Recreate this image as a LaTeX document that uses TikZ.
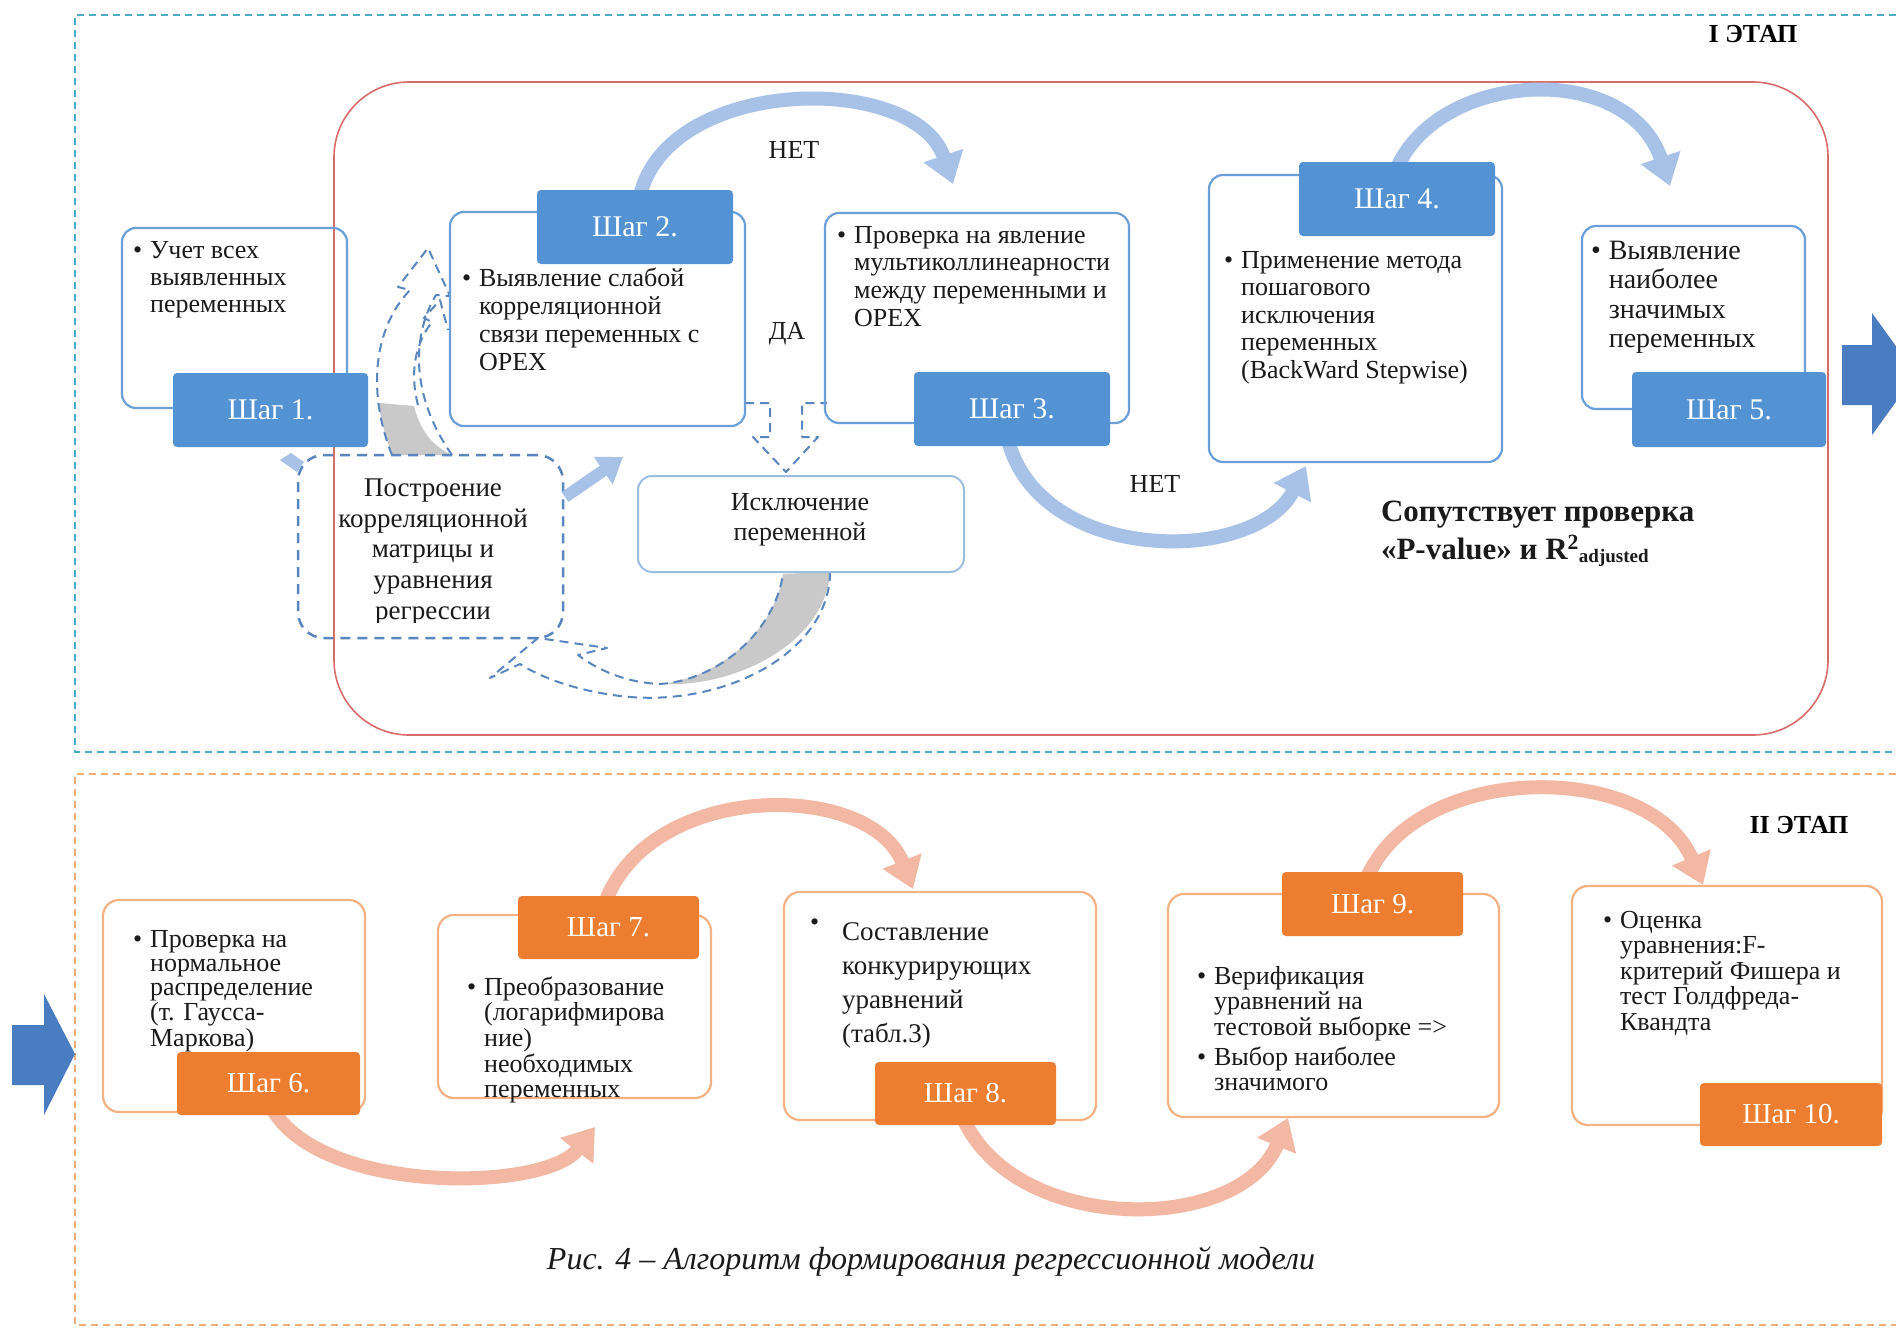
\documentclass[tikz,border=0pt]{standalone}
\usepackage{fontspec}
\setmainfont{Liberation Serif}
\usetikzlibrary{arrows.meta}
\definecolor{blab}{HTML}{5392D3}
\definecolor{bbord}{HTML}{6A9FD8}
\definecolor{barc}{HTML}{A7C2E6}
\definecolor{olab}{HTML}{ED7D31}
\definecolor{obord}{HTML}{F4B183}
\definecolor{oarc}{HTML}{F3B8A4}
\definecolor{redf}{HTML}{D96B6B}
\definecolor{stageone}{HTML}{4BACC6}
\definecolor{stagetwo}{HTML}{F0AC7A}
\definecolor{dblue}{HTML}{5A86C0}
\definecolor{bigblue}{HTML}{4A7CC2}
\definecolor{graywedge}{HTML}{C9C9C9}
\definecolor{exbord}{HTML}{9DBDE3}
\definecolor{tcol}{HTML}{1A1A1A}
\newcommand\bx[7]{\node[#1, anchor=north west, inner sep=0pt, outer sep=0pt,
  minimum width={(#5)-(#3)}, minimum height={(#6)-(#4)}] (#2) at (#3,#4) {#7};}
\begin{document}
\begin{tikzpicture}[x=1pt,y=-1pt,
  bbox/.style={draw=bbord, line width=2.2pt, rounded corners=14pt},
  obox/.style={draw=obord, line width=2.2pt, rounded corners=16pt},
  blabel/.style={fill=blab, rounded corners=4pt, text=white, font=\fontsize{30}{32}\selectfont},
  olabel/.style={fill=olab, rounded corners=4pt, text=white, font=\fontsize{29}{31}\selectfont},
  txt/.style={inner sep=0pt, outer sep=0pt, text=tcol, anchor=base west},
  ctxt/.style={inner sep=0pt, outer sep=0pt, text=tcol, align=center},
  barrow/.style={draw=barc, line width=14pt, -{Triangle[width=40pt,length=30pt]}},
  oarrow/.style={draw=oarc, line width=14pt, -{Triangle[width=40pt,length=30pt]}},
  dasharrow/.style={draw=dblue, line width=2pt, dash pattern=on 9pt off 6pt, line join=round},
  stageline/.style={line width=1.8pt, dash pattern=on 7pt off 5pt}
]
\useasboundingbox (0,0) rectangle (1896,1328);
\fill[white] (0,0) rectangle (1896,1328);

% stage frames
\draw[stageline, draw=stageone] (1896,15) -- (75,15) -- (75,752) -- (1896,752);
\draw[stageline, draw=stagetwo] (1896,774) -- (75,774) -- (75,1325) -- (1896,1325);
\node[inner sep=0pt, font=\bfseries\fontsize{26}{28}\selectfont] (st1) at (1753,34) {I ЭТАП};
\node[inner sep=0pt, font=\bfseries\fontsize{26}{28}\selectfont] (st2) at (1799,825) {II ЭТАП};

% red frame
\bx{draw=redf, line width=1.6pt, rounded corners=75pt}{redframe}{334}{82}{1828}{735}{}

% big block arrows
\fill[bigblue] (1842,345) -- (1872,345) -- (1872,313) -- (1916,374) -- (1872,435) -- (1872,405) -- (1842,405) -- cycle;
\fill[bigblue] (12,1025) -- (44,1025) -- (44,994) -- (75,1054) -- (44,1115) -- (44,1085) -- (12,1085) -- cycle;

% blue arcs
\coordinate (a1s) at (640,196);
\coordinate (a1e) at (953,184);
\draw[barrow] (a1s) .. controls (668,75) and (915,72) .. (a1e);
\coordinate (a2s) at (1397,168);
\coordinate (a2e) at (1670,186);
\draw[barrow] (a2s) .. controls (1440,70) and (1628,60) .. (a2e);
\coordinate (a3s) at (1008,440);
\coordinate (a3e) at (1306,466);
\draw[barrow] (a3s) .. controls (1040,565) and (1255,565) .. (a3e);

% orange arcs
\coordinate (o1s) at (272,1108);
\coordinate (o1e) at (595,1127);
\draw[oarrow] (o1s) .. controls (320,1195) and (545,1192) .. (o1e);
\coordinate (o2s) at (605,903);
\coordinate (o2e) at (913,889);
\draw[oarrow] (o2s) .. controls (650,780) and (870,780) .. (o2e);
\coordinate (o3s) at (963,1118);
\coordinate (o3e) at (1288,1118);
\draw[oarrow] (o3s) .. controls (1015,1235) and (1240,1235) .. (o3e);
\coordinate (o4s) at (1366,880);
\coordinate (o4e) at (1703,885);
\draw[oarrow] (o4s) .. controls (1415,760) and (1650,760) .. (o4e);

% dashed curved arrows (left part of stage I)
\fill[graywedge] (392,455) .. controls (384,432) and (380,418) .. (379,403) -- (414,406) .. controls (420,430) and (432,446) .. (452,455) -- cycle;
\draw[dasharrow] (392,455) .. controls (368,395) and (372,330) .. (410,290) -- (398,287) -- (428,248) -- (450,296) -- (436,295) .. controls (412,335) and (410,395) .. (452,455);
\draw[dasharrow] (418,405) .. controls (410,375) and (414,345) .. (432,322) -- (424,318) -- (440,300) -- (448,330);
\fill[graywedge] (783,574) .. controls (775,630) and (720,678) .. (660,684) .. controls (740,688) and (826,640) .. (830,572) -- cycle;
\draw[dasharrow] (830,572) .. controls (830,650) and (730,705) .. (630,697) .. controls (585,693) and (545,680) .. (520,664) -- (490,678) -- (538,638) -- (607,648) -- (578,655) .. controls (600,672) and (630,683) .. (660,684) .. controls (720,680) and (775,630) .. (783,574);
\draw[dasharrow] (745,403) -- (770,403) -- (770,437) -- (753,437) -- (786,472) -- (818,437) -- (802,437) -- (802,403) -- (827,403);

% stage I boxes
\bx{bbox}{s1}{122}{228}{347}{408}{}
\bx{bbox}{s2}{450}{212}{745}{426}{}
\bx{bbox}{s3}{825}{213}{1129}{423}{}
\bx{bbox}{s4}{1209}{175}{1502}{462}{}
\bx{bbox}{s5}{1582}{226}{1805}{409}{}
\bx{draw=exbord, line width=2pt, rounded corners=14pt}{excl}{638}{476}{964}{572}{}
\bx{draw=dblue, line width=2.5pt, dash pattern=on 10pt off 7pt, rounded corners=26pt}{dbox}{298}{455}{563}{638}{}

% small arrows step1 -> dashed box -> step2
\fill[barc] (280,460) -- (291,453) -- (304,462) -- (297,472) -- cycle;
\coordinate (sa1) at (565,497);
\coordinate (sa2) at (623,457);
\draw[draw=barc, line width=12pt, -{Triangle[width=32pt,length=24pt]}] (sa1) -- (sa2);

\bx{blabel}{l1}{173}{373}{368}{447}{Шаг 1.}
\bx{blabel}{l2}{537}{190}{733}{264}{Шаг 2.}
\bx{blabel}{l3}{914}{372}{1110}{446}{Шаг 3.}
\bx{blabel}{l4}{1299}{162}{1495}{236}{Шаг 4.}
\bx{blabel}{l5}{1632}{372}{1826}{447}{Шаг 5.}

% stage I texts
\node[txt, font=\fontsize{26}{27}\selectfont] (t1) at (133,258)
 {\begin{tabular}[t]{@{}l@{\hspace{8pt}}l@{}}•&Учет всех\\&выявленных\\&переменных\end{tabular}};
\node[txt, font=\fontsize{26}{28}\selectfont] (t2) at (462,286)
 {\begin{tabular}[t]{@{}l@{\hspace{8pt}}l@{}}•&Выявление слабой\\&корреляционной\\&связи переменных с\\&OPEX\end{tabular}};
\node[txt, font=\fontsize{26}{27.7}\selectfont] (t3) at (837,243)
 {\begin{tabular}[t]{@{}l@{\hspace{8pt}}l@{}}•&Проверка на явление\\&мультиколлинеарности\\&между переменными и\\&OPEX\end{tabular}};
\node[txt, font=\fontsize{26}{27.5}\selectfont] (t4) at (1224,268)
 {\begin{tabular}[t]{@{}l@{\hspace{8pt}}l@{}}•&Применение метода\\&пошагового\\&исключения\\&переменных\\&(BackWard Stepwise)\end{tabular}};
\node[txt, font=\fontsize{28}{29.5}\selectfont] (t5) at (1591,259)
 {\begin{tabular}[t]{@{}l@{\hspace{8pt}}l@{}}•&Выявление\\&наиболее\\&значимых\\&переменных\end{tabular}};
\node[ctxt, font=\fontsize{26}{30}\selectfont] (texcl) at (800,520) {Исключение\\переменной};
\begin{scope}
\clip (298,455) rectangle (563,622);
\node[ctxt, font=\fontsize{27}{30.7}\selectfont] (tdb) at (433,552) {Построение\\корреляционной\\матрицы и\\уравнения\\регрессии};
\end{scope}
\node[ctxt, font=\fontsize{26}{28}\selectfont] (net1) at (794,150) {НЕТ};
\node[ctxt, font=\fontsize{26}{28}\selectfont] (da) at (787,334) {ДА};
\node[ctxt, font=\fontsize{26}{28}\selectfont] (net2) at (1155,484) {НЕТ};
\node[txt, font=\bfseries\fontsize{31}{38}\selectfont] (pv) at (1381,521)
 {\begin{tabular}[t]{@{}l@{}}Сопутствует проверка\\«P-value» и R\textsuperscript{2}\raisebox{-3pt}{\fontsize{19}{20}\selectfont adjusted}\end{tabular}};

% stage II boxes
\bx{obox}{s6}{103}{900}{365}{1112}{}
\bx{obox}{s7}{438}{915}{711}{1098}{}
\bx{obox}{s8}{784}{892}{1096}{1120}{}
\bx{obox}{s9}{1168}{894}{1499}{1117}{}
\bx{obox}{s10}{1572}{886}{1882}{1125}{}
\bx{olabel}{l6}{177}{1052}{360}{1115}{Шаг 6.}
\bx{olabel}{l7}{518}{896}{699}{959}{Шаг 7.}
\bx{olabel}{l8}{875}{1062}{1056}{1125}{Шаг 8.}
\bx{olabel}{l9}{1282}{872}{1463}{936}{Шаг 9.}
\bx{olabel}{l10}{1700}{1083}{1882}{1146}{Шаг 10.}

% stage II texts
\node[txt, font=\fontsize{26}{24.2}\selectfont] (t6) at (133,947)
 {\begin{tabular}[t]{@{}l@{\hspace{8pt}}l@{}}•&Проверка на\\&нормальное\\&распределение\\&(т. Гаусса-\\&Маркова)\end{tabular}};
\node[txt, font=\fontsize{26}{25}\selectfont] (t7) at (467,995)
 {\begin{tabular}[t]{@{}l@{\hspace{8pt}}l@{}}•&Преобразование\\&(логарифмирова\\&ние)\\&необходимых\\&переменных\end{tabular}};
\node[txt, font=\fontsize{26}{28}\selectfont] (b8) at (810,930) {•};
\node[txt, font=\fontsize{27}{34}\selectfont] (t8) at (842,940)
 {\begin{tabular}[t]{@{}l@{}}Составление\\конкурирующих\\уравнений\\(табл.3)\end{tabular}};
\node[txt, font=\fontsize{26}{25.5}\selectfont] (t9) at (1197,984)
 {\begin{tabular}[t]{@{}l@{\hspace{8pt}}l@{}}•&Верификация\\&уравнений на\\&тестовой выборке =>\\[3pt]•&Выбор наиболее\\&значимого\end{tabular}};
\node[txt, font=\fontsize{26}{25.5}\selectfont] (t10) at (1603,928)
 {\begin{tabular}[t]{@{}l@{\hspace{8pt}}l@{}}•&Оценка\\&уравнения:F-\\&критерий Фишера и\\&тест Голдфреда-\\&Квандта\end{tabular}};

% caption
\node[ctxt, font=\itshape\fontsize{32}{34}\selectfont] (cap) at (931,1262) {Рис. 4 – Алгоритм формирования регрессионной модели};
\end{tikzpicture}
\end{document}
